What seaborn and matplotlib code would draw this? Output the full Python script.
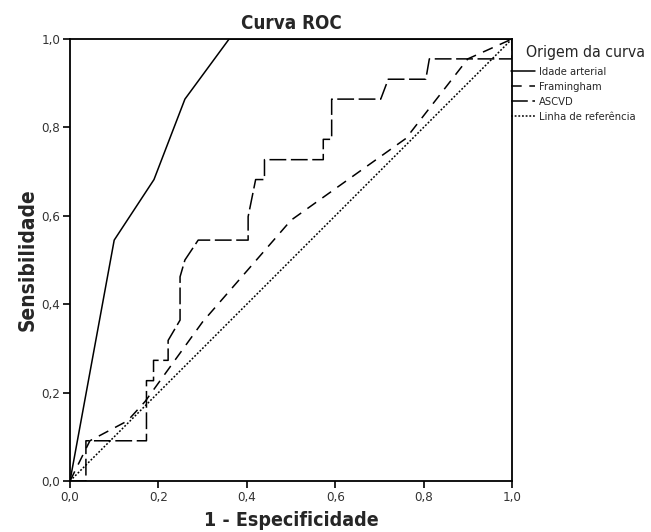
import matplotlib.pyplot as plt
import matplotlib.ticker as mticker
import numpy as np
import pandas as pd
import seaborn as sns

# curvas ROC
idade_x = [0.0, 0.10, 0.19, 0.26, 0.36, 1.0]
idade_y = [0.0, 0.545, 0.682, 0.864, 1.0, 1.0]

fram_x = [0.0, 0.045, 0.13, 0.17, 0.30, 0.50, 0.76, 0.90, 1.0]
fram_y = [0.0, 0.091, 0.136, 0.18, 0.36, 0.59, 0.775, 0.955, 1.0]

ascvd_x = [0.0, 0.036, 0.036, 0.173, 0.173, 0.189, 0.189, 0.222, 0.222, 0.249,
           0.249, 0.26, 0.29, 0.403, 0.403, 0.42, 0.44, 0.44, 0.573, 0.573,
           0.592, 0.592, 0.703, 0.72, 0.805, 0.813, 1.0, 1.0]
ascvd_y = [0.0, 0.0, 0.091, 0.091, 0.227, 0.227, 0.273, 0.273, 0.318, 0.364,
           0.462, 0.5, 0.545, 0.545, 0.598, 0.682, 0.682, 0.727, 0.727, 0.773,
           0.773, 0.864, 0.864, 0.909, 0.909, 0.955, 0.955, 1.0]

ref_x = [0.0, 1.0]
ref_y = [0.0, 1.0]

legend_labels = ["Idade arterial", "Framingham", "ASCVD", "Linha de referência"]
tick_vals = [0.0, 0.2, 0.4, 0.6, 0.8, 1.0]

sns.set_theme(style="white")
plt.rcParams['font.family'] = ['DejaVu Sans']
plt.rcParams['font.stretch'] = 'condensed'

fig = plt.figure(figsize=(6.51, 5.32), dpi=100)
ax = fig.add_axes([70 / 651, 51 / 532, 442 / 651, 442 / 532])

sns.lineplot(x=idade_x, y=idade_y, sort=False, estimator=None, ax=ax,
             color="black", lw=1.1, label=legend_labels[0])
sns.lineplot(x=fram_x, y=fram_y, sort=False, estimator=None, ax=ax,
             color="black", lw=1.1, linestyle=(0, (7, 5)), label=legend_labels[1])
sns.lineplot(x=ascvd_x, y=ascvd_y, sort=False, estimator=None, ax=ax,
             color="black", lw=1.1, linestyle=(0, (11, 3)), label=legend_labels[2])
sns.lineplot(x=ref_x, y=ref_y, sort=False, estimator=None, ax=ax,
             color="black", lw=1.1, linestyle=(0, (1.2, 1.2)), label=legend_labels[3])

ax.set_xlim(0, 1)
ax.set_ylim(0, 1)
ax.set_xticks(tick_vals)
ax.set_yticks(tick_vals)
fmt = mticker.FuncFormatter(lambda v, p: f"{v:.1f}".replace(".", ","))
ax.xaxis.set_major_formatter(fmt)
ax.yaxis.set_major_formatter(fmt)
ax.tick_params(axis="both", direction="out", length=5, width=1.2,
               labelsize=9.5, colors="black", labelcolor="#333333",
               bottom=True, left=True, pad=2)
for s in ax.spines.values():
    s.set_color("black")
    s.set_linewidth(1.3)

ax.set_title("Curva ROC", fontsize=13.5, fontweight="bold", pad=7)
ax.set_xlabel("1 - Especificidade", fontsize=14, fontweight="bold", labelpad=5)
ax.set_ylabel("Sensibilidade", fontsize=15, fontweight="bold", labelpad=3)

fig.text(526 / 651, 1 - 53 / 532, "Origem da curva", fontsize=11.3,
         ha="left", va="center")
ax.legend(loc="upper left", bbox_to_anchor=(511 / 651, 1 - 67 / 532),
          bbox_transform=fig.transFigure, frameon=False, fontsize=8,
          handlelength=2.2, handletextpad=0.3, labelspacing=0.45,
          borderaxespad=0, borderpad=0)

fig.savefig("out.png", dpi=100)
